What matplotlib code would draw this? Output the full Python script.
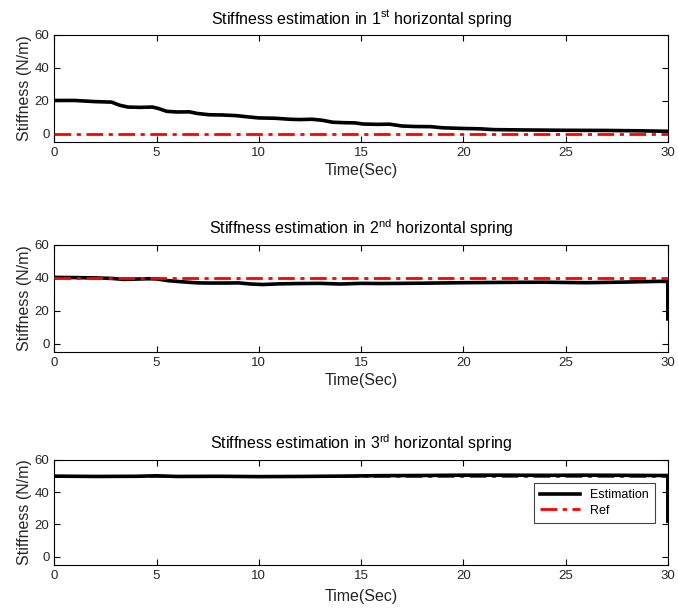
import matplotlib
matplotlib.use('Agg')
import matplotlib.pyplot as plt

plt.rcParams['font.family'] = ['Liberation Sans', 'DejaVu Sans']
plt.rcParams['mathtext.fontset'] = 'custom'
plt.rcParams['mathtext.rm'] = 'Liberation Sans'
plt.rcParams['mathtext.it'] = 'Liberation Sans'

# 1st spring estimate
t1 = [0, 1, 2, 2.8, 3.2, 3.6, 4.2, 4.8, 5.1, 5.5, 6.0, 6.6, 7.0, 7.6, 8.2, 8.9, 9.5, 10.0,
      10.8, 11.5, 12.0, 12.6, 13.1, 13.6, 14.2, 14.7, 15.1, 15.8, 16.4, 17.0, 17.6, 18.4,
      19.0, 20.0, 20.8, 21.5, 23.0, 25.0, 27.0, 28.5, 30.0]
k1 = [20.2, 20.2, 19.5, 19.2, 17.3, 16.2, 16.0, 16.2, 15.3, 13.6, 13.2, 13.3, 12.3, 11.5, 11.4,
      11.0, 10.2, 9.6, 9.4, 8.8, 8.6, 8.8, 8.2, 7.0, 6.7, 6.6, 5.9, 5.7, 5.8, 4.7, 4.4, 4.3,
      3.6, 3.2, 3.0, 2.5, 2.3, 2.1, 2.0, 1.8, 1.5]

# 2nd spring estimate
t2 = [0, 1, 2, 2.8, 3.4, 4.0, 4.6, 5.0, 5.6, 6.2, 7.0, 7.5, 8.5, 9.0, 9.6, 10.2, 11.0,
      12.0, 13.0, 14.0, 15.0, 16.0, 17.0, 18.0, 20.0, 22.0, 24.0, 26.0, 28.0, 29.5, 30.0, 30.0]
k2 = [40.2, 40.1, 39.9, 39.6, 39.0, 39.2, 39.4, 39.3, 38.2, 37.6, 36.9, 36.8, 36.8, 36.9, 36.2,
      35.9, 36.3, 36.5, 36.6, 36.2, 36.6, 36.5, 36.6, 36.7, 37.0, 37.2, 37.3, 37.0, 37.4, 37.8, 37.8, 15.0]

# 3rd spring estimate
t3 = [0, 2, 4, 5, 6, 8, 10, 12, 14, 16, 18, 20, 22, 24, 26, 28, 29.5, 30.0, 30.0]
k3 = [49.8, 49.6, 49.7, 50.0, 49.6, 49.7, 49.5, 49.6, 49.8, 50.1, 50.2, 50.4, 50.4, 50.3, 50.4,
      50.3, 50.2, 50.2, 22.0]

ref_values = [0, 40, 50]
titles = ['Stiffness estimation in 1$^{\\mathrm{st}}$ horizontal spring',
          'Stiffness estimation in 2$^{\\mathrm{nd}}$ horizontal spring',
          'Stiffness estimation in 3$^{\\mathrm{rd}}$ horizontal spring']

fig = plt.figure(figsize=(6.78, 6.12), dpi=100)
boxes = [[0.080, 0.768, 0.905, 0.175],
         [0.080, 0.425, 0.905, 0.175],
         [0.080, 0.077, 0.905, 0.172]]
label_pads = [3, 3, 5]

for i, (t, k) in enumerate([(t1, k1), (t2, k2), (t3, k3)]):
    ax = fig.add_axes(boxes[i])
    ax.plot(t, k, color='black', lw=2.6, label='Estimation', zorder=3)
    ax.plot([0, 30], [ref_values[i], ref_values[i]], color='red', lw=2,
            ls=(0, (6, 2, 1.5, 2)), label='Ref', zorder=2 if i == 2 else 4)
    ax.set_xlim(0, 30)
    ax.set_ylim(-5, 60)
    ax.set_xticks(range(0, 31, 5))
    ax.set_yticks([0, 20, 40, 60])
    ax.tick_params(direction='in', top=True, right=True, length=4, labelsize=9.5,
                   labelcolor='#262626')
    ax.set_xlabel('Time(Sec)', fontsize=11.5, color='#262626', labelpad=label_pads[i])
    ax.set_ylabel('Stiffness (N/m)', fontsize=11.5, color='#262626', labelpad=2)
    ax.set_title(titles[i], fontsize=11.5, pad=8)
    if i == 2:
        leg = ax.legend(loc='upper left', bbox_to_anchor=(0.772, 0.84), fontsize=9,
                        fancybox=False, edgecolor='#444444', framealpha=1,
                        handlelength=3.2, borderpad=0.5, labelspacing=0.3)
        leg.get_frame().set_linewidth(0.8)

plt.savefig('out.png', dpi=100)
